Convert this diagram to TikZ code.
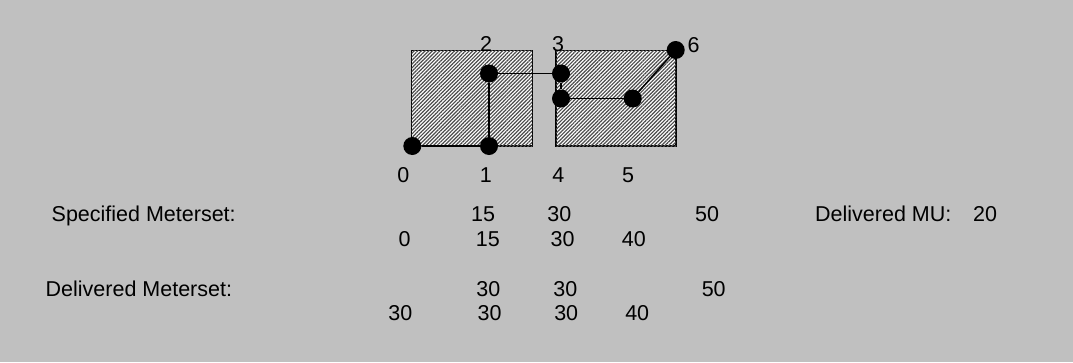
\documentclass[tikz,border=0pt]{standalone}
\usepackage{fontspec}
\setmainfont{Liberation Sans}
\usetikzlibrary{patterns.meta}
\definecolor{bg}{HTML}{C0C0C0}
\tikzset{
  txt/.style={inner sep=0pt, anchor=base, font=\fontsize{21.5}{25}\selectfont},
  ltxt/.style={inner sep=0pt, anchor=base west, font=\fontsize{21.5}{25}\selectfont},
  field/.style={draw=black, line width=1.4pt, fill=white,
    postaction={pattern={Lines[angle=45,distance=2.6pt,line width=1.2pt]}, pattern color=black!70}},
  dot/.style={circle, fill=black, minimum size=18pt, inner sep=0pt},
  link/.style={line width=1.5pt, draw=black},
}
\begin{document}
\begin{tikzpicture}[x=1pt,y=-1pt]
\fill[bg] (0,0) rectangle (1073,362);
\useasboundingbox (0,0) rectangle (1073,362);
% fields
\draw[field] (411.7,50.5) rectangle (532.3,146);
\draw[field] (556,50.5) rectangle (676,146);
% dots
\node[dot] (d0) at (412.3,146) {};
\node[dot] (d1) at (489,146) {};
\node[dot] (d2) at (489,73.5) {};
\node[dot] (d3) at (561,73.5) {};
\node[dot] (d4) at (561,98.5) {};
\node[dot] (d5) at (632.7,98.5) {};
\node[dot] (d6) at (675.7,50) {};
\draw[link] (d0) -- (d1);
\draw[link] (d1) -- (d2);
\draw[link] (d2) -- (d3);
\draw[link] (d3) -- (d4);
\draw[link] (d4) -- (d5);
\draw[link] (d5) -- (d6);
% point labels
\node[txt] (l2) at (486,51.7) {2};
\node[txt] (l3) at (558,51.2) {3};
\node[txt] (l6) at (693.7,52.3) {6};
\node[txt] (l0) at (403.3,182.3) {0};
\node[txt] (l1) at (485.8,182.3) {1};
\node[txt] (l4) at (558.3,182.3) {4};
\node[txt] (l5) at (628,182.3) {5};
% specified meterset
\node[ltxt] (spec) at (51.5,221.7) {Specified Meterset:};
\node[txt] (s1a) at (483,221.7) {15};
\node[txt] (s1b) at (559.3,221.7) {30};
\node[txt] (s1c) at (707,221.7) {50};
\node[txt] (s2a) at (404.7,246.7) {0};
\node[txt] (s2b) at (487.8,246.7) {15};
\node[txt] (s2c) at (562.5,246.7) {30};
\node[txt] (s2d) at (633.8,246.7) {40};
\node[ltxt] (dmu) at (815,221.7) {Delivered MU:};
\node[txt] (dmuv) at (985,221.7) {20};
% delivered meterset
\node[ltxt] (deliv) at (45.5,296) {Delivered Meterset:};
\node[txt] (d1a) at (488.3,296) {30};
\node[txt] (d1b) at (565.3,296) {30};
\node[txt] (d1c) at (713.7,296) {50};
\node[txt] (d2a) at (400.3,320) {30};
\node[txt] (d2b) at (489.5,320) {30};
\node[txt] (d2c) at (566.2,320) {30};
\node[txt] (d2d) at (637.2,320) {40};
\end{tikzpicture}
\end{document}
